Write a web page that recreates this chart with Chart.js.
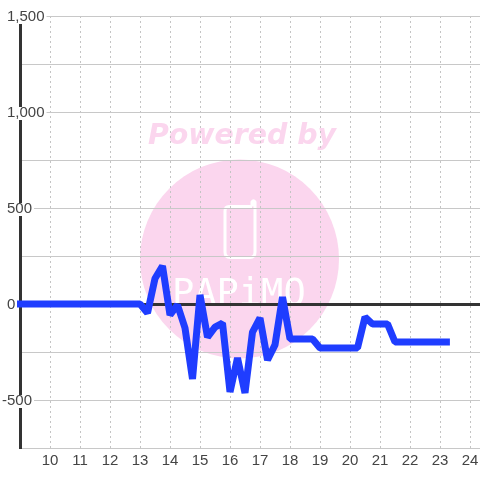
<!DOCTYPE html>
<html>
<head>
<meta charset="utf-8">
<style>
  html, body { margin: 0; padding: 0; background: #fff; }
  #wrap { width: 480px; height: 480px; }
</style>
<script src="https://cdn.jsdelivr.net/npm/chart.js@4/dist/chart.umd.js"></script>
</head>
<body>
<div id="wrap"><canvas id="chart" width="480" height="480"></canvas></div>
<script>
const hours = [
  8.75, 9, 9.25, 9.5, 9.75, 10, 10.25, 10.5, 10.75, 11, 11.25, 11.5, 11.75, 12, 12.25, 12.5, 12.75, 13,
  13.25, 13.5, 13.75, 14, 14.25, 14.5, 14.75, 15, 15.25, 15.5, 15.75, 16, 16.25, 16.5, 16.75, 17, 17.25, 17.5, 17.75,
  18, 18.25, 18.5, 18.75, 19, 19.25, 19.5, 19.75, 20, 20.25, 20.5, 20.75, 21, 21.25, 21.5,
  21.75, 22, 22.25, 22.5, 22.75, 23, 23.33
];
const values = [
  0, 0, 0, 0, 0, 0, 0, 0, 0, 0, 0, 0, 0, 0, 0, 0, 0, 0,
  -47, 133, 198, -57, -5, -125, -390, 47, -172, -120, -100, -458, -281, -463, -146, -73, -292, -213, 36,
  -182, -182, -182, -182, -229, -229, -229, -229, -229, -229, -68, -104, -104, -104, -198,
  -198, -198, -198, -198, -198, -198, -198
];
const xTicks = [10, 11, 12, 13, 14, 15, 16, 17, 18, 19, 20, 21, 22, 23, 24];
const yTicks = [1500, 1250, 1000, 750, 500, 250, 0, -250, -500, -750];
const yLabelled = [1500, 1000, 500, 0, -500];

const PINK = '#fbd6ee';
const TICK_FONT = '15px "Liberation Sans"';

// watermark sits under the grid
const watermark = {
  id: 'watermark',
  beforeDraw(chart) {
    const ctx = chart.ctx;
    ctx.save();
    ctx.fillStyle = '#fff';
    ctx.fillRect(0, 0, 480, 480);

    ctx.fillStyle = PINK;
    ctx.beginPath();
    ctx.arc(239.5, 259, 99.5, 0, Math.PI * 2);
    ctx.fill();

    ctx.font = 'italic bold 28.4px "DejaVu Sans"';
    ctx.textAlign = 'left';
    ctx.textBaseline = 'alphabetic';
    ctx.fillText('Powered by', 148, 144);

    // phone outline
    ctx.strokeStyle = '#fff';
    ctx.lineWidth = 3;
    ctx.lineJoin = 'round';
    ctx.beginPath();
    ctx.moveTo(252, 206.5);
    ctx.lineTo(229, 206.5);
    ctx.quadraticCurveTo(225, 206.5, 225, 211);
    ctx.lineTo(225, 252);
    ctx.quadraticCurveTo(225, 257.5, 230, 257.5);
    ctx.lineTo(250, 257.5);
    ctx.quadraticCurveTo(255, 257.5, 255, 252);
    ctx.lineTo(255, 202);
    ctx.quadraticCurveTo(253.5, 199.5, 252, 202);
    ctx.lineTo(252, 206.5);
    ctx.stroke();

    ctx.fillStyle = '#fff';
    ctx.font = '37px "DejaVu Sans Mono"';
    ctx.fillText('PAPiMO', 172, 305);
    ctx.restore();
  }
};

// y labels hang inside the plot with a white box behind them
const yLabels = {
  id: 'yLabels',
  beforeDatasetsDraw(chart) {
    const ctx = chart.ctx;
    const y = chart.scales.y;
    ctx.save();
    ctx.font = TICK_FONT;
    ctx.textAlign = 'left';
    ctx.textBaseline = 'middle';
    yLabelled.forEach(v => {
      const py = Math.round(y.getPixelForValue(v));
      const text = v.toLocaleString('en-US');
      const left = v < 0 ? 2 : 7;
      const w = ctx.measureText(text).width;
      ctx.fillStyle = '#fff';
      ctx.fillRect(left, py - 5, w + 2, 13);
      ctx.fillStyle = '#444';
      ctx.fillText(text, left, py + 1);
    });
    ctx.restore();
  }
};

new Chart(document.getElementById('chart'), {
  type: 'line',
  data: {
    datasets: [{
      data: hours.map((h, i) => ({ x: h, y: values[i] })),
      borderColor: '#1f3dff',
      borderWidth: 7,
      borderJoinStyle: 'bevel',
      pointRadius: 0,
      tension: 0,
      fill: false,
      clip: 3
    }]
  },
  options: {
    responsive: false,
    animation: false,
    layout: { padding: { top: 16, left: 0, right: 0, bottom: 0 } },
    plugins: { legend: { display: false }, tooltip: { enabled: false } },
    scales: {
      x: {
        type: 'linear',
        min: 9,
        max: 24.3333,
        afterFit(scale) {
          scale.height = 32;
          scale.paddingLeft = 0;
          scale.paddingRight = 0;
        },
        afterBuildTicks(scale) { scale.ticks = xTicks.map(value => ({ value })); },
        grid: { color: '#c4c4c4', lineWidth: 1, drawTicks: false },
        border: { display: true, color: '#c8c8c8', width: 1, dash: [2, 3] },
        ticks: { color: '#444', font: { family: 'Liberation Sans', size: 15 }, padding: 4, maxRotation: 0, autoSkip: false }
      },
      y: {
        min: -750,
        max: 1500,
        afterFit(scale) { scale.width = 20; },
        afterBuildTicks(scale) { scale.ticks = yTicks.map(value => ({ value })); },
        grid: {
          color: c => c.tick.value === 0 ? '#333' : '#c8c8c8',
          lineWidth: c => c.tick.value === 0 ? 3 : 1,
          drawTicks: false
        },
        border: { display: true, color: '#333', width: 3 },
        ticks: { display: false }
      }
    }
  },
  plugins: [watermark, yLabels]
});
</script>
</body>
</html>
